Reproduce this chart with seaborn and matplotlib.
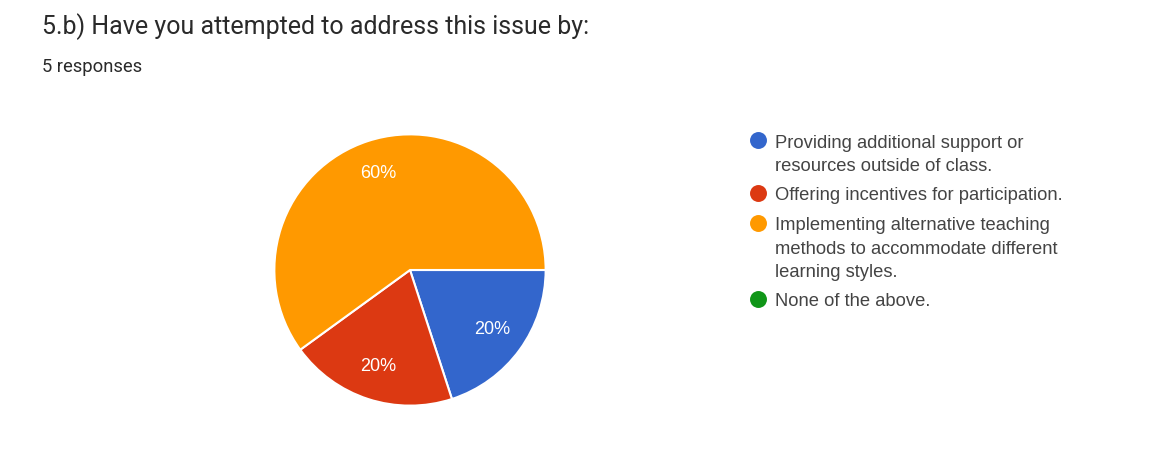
import matplotlib
matplotlib.use("Agg")
import matplotlib.pyplot as plt
import seaborn as sns

# ---- data ----
categories = [
    "Providing additional support or\nresources outside of class.",
    "Offering incentives for participation.",
    "Implementing alternative teaching\nmethods to accommodate different\nlearning styles.",
    "None of the above.",
]
responses = [1, 1, 3, 0]
colors_hex = ["#3366CC", "#DC3912", "#FF9900", "#109618"]
title = "5.b) Have you attempted to address this issue by:"
subtitle = "5 responses"

sns.set_theme(style="white")
palette = sns.color_palette(colors_hex)

W, H = 1170, 457
fig = plt.figure(figsize=(W / 100, H / 100), dpi=100)
fig.patch.set_facecolor("white")

# title texts
fig.text(42 / W, 1 - 27 / H, title, fontsize=18, family="Roboto",
         color="#2a2a2a", va="center", ha="left")
fig.text(42 / W, 1 - 67 / H, subtitle, fontsize=13.2, family="Roboto",
         color="#2a2a2a", va="center", ha="left")

# pie
cx, cy, r = 410, 270, 137
ax = fig.add_axes([(cx - r) / W, (H - cy - r) / H, 2 * r / W, 2 * r / H])
nz = [i for i, v in enumerate(responses) if v > 0]
wedges, texts, autotexts = ax.pie(
    [responses[i] for i in nz],
    colors=[palette[i] for i in nz],
    startangle=0, counterclock=False,
    autopct="%1.0f%%", pctdistance=0.75,
    wedgeprops=dict(edgecolor="white", linewidth=1.5),
    textprops=dict(color="white", fontsize=13, family="Liberation Sans"),
)
ax.set_xlim(-1.01, 1.01)
ax.set_ylim(-1.01, 1.01)
ax.set_aspect("equal")
ax.axis("off")

# legend (custom layout: marker aligned with first line)
lax = fig.add_axes([0, 0, 1, 1])
lax.set_xlim(0, W)
lax.set_ylim(H, 0)
lax.axis("off")
y = 140.0
line_step = 23.5
item_gap = 29.5
for i, lab in enumerate(categories):
    lax.plot([758], [y], marker="o", markersize=12.2, color=palette[i],
             markeredgewidth=0, linestyle="none")
    lines = lab.split("\n")
    for j, ln in enumerate(lines):
        lax.text(775, y + 7.5 + j * line_step, ln, fontsize=13.2,
                 family="Liberation Sans", color="#444444",
                 va="baseline", ha="left")
    y += (len(lines) - 1) * line_step + item_gap

fig.savefig("out.png", dpi=100, facecolor="white")
